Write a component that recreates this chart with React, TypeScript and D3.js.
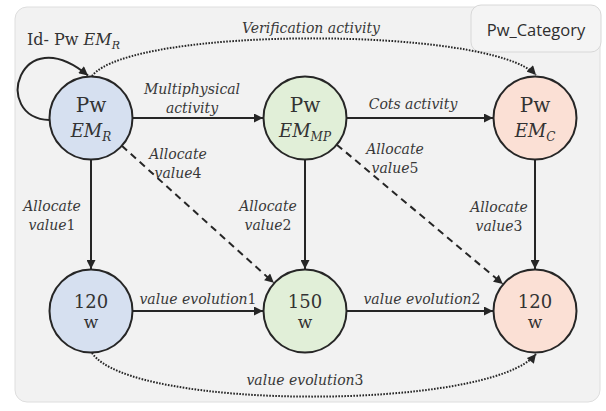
import { useEffect, useRef } from "react";
import * as d3 from "d3";

type NodeDatum = { id: string; col: string; row: string; top: string; math?: string; sub?: string; fill: string };
type EdgeDatum = { from: string; to: string; kind: "solid" | "dashed" | "dotted"; label: string[]; dx: number; dy: number; bend?: number };

const columns = ["R", "MP", "C"];
const rows = ["category", "value"];

const nodes: NodeDatum[] = [
  { id: "pwR", col: "R", row: "category", top: "Pw", math: "EM", sub: "R", fill: "#d6e0f0" },
  { id: "pwMP", col: "MP", row: "category", top: "Pw", math: "EM", sub: "MP", fill: "#e1efd8" },
  { id: "pwC", col: "C", row: "category", top: "Pw", math: "EM", sub: "C", fill: "#fbe0d5" },
  { id: "vR", col: "R", row: "value", top: "120", math: "w", fill: "#d6e0f0" },
  { id: "vMP", col: "MP", row: "value", top: "150", math: "w", fill: "#e1efd8" },
  { id: "vC", col: "C", row: "value", top: "120", math: "w", fill: "#fbe0d5" },
];

const edges: EdgeDatum[] = [
  { from: "pwR", to: "pwMP", kind: "solid", label: ["Multiphysical", "activity"], dx: -6, dy: -24 },
  { from: "pwMP", to: "pwC", kind: "solid", label: ["Cots activity"], dx: -7, dy: -9 },
  { from: "pwR", to: "vR", kind: "solid", label: ["Allocate", "value1"], dx: -39, dy: -4 },
  { from: "pwMP", to: "vMP", kind: "solid", label: ["Allocate", "value2"], dx: -37, dy: -4 },
  { from: "pwC", to: "vC", kind: "solid", label: ["Allocate", "value3"], dx: -36, dy: -3 },
  { from: "pwR", to: "vMP", kind: "dashed", label: ["Allocate", "value4"], dx: -20, dy: -56 },
  { from: "pwMP", to: "vC", kind: "dashed", label: ["Allocate", "value5"], dx: -25, dy: -61 },
  { from: "vR", to: "vMP", kind: "solid", label: ["value evolution1"], dx: 0, dy: -7 },
  { from: "vMP", to: "vC", kind: "solid", label: ["value evolution2"], dx: 2, dy: -7 },
  { from: "pwR", to: "pwC", kind: "dotted", label: ["Verification activity"], dx: -2, dy: -85, bend: -1 },
  { from: "vR", to: "vC", kind: "dotted", label: ["value evolution3"], dx: -8, dy: 74, bend: 1 },
];

const categoryLabel = "Pw_Category";
const loopLabel = { text: "Id- Pw ", math: "EM", sub: "R" };

const W = 606;
const H = 411;
const R = 41.5;

export default function App() {
  const svgRef = useRef<SVGSVGElement>(null);

  useEffect(() => {
    if (!svgRef.current) return;
    const svg = d3.select(svgRef.current);
    svg.selectAll("*").remove();

    const x = d3.scaleOrdinal<string, number>().domain(columns).range([91, 305, 535]);
    const y = d3.scaleOrdinal<string, number>().domain(rows).range([118, 311]);
    const pos = new Map(nodes.map((n) => [n.id, { x: x(n.col), y: y(n.row) }]));

    const ink = "#262626";
    const textInk = "#383838";
    const serif = "'DejaVu Serif', serif";

    const defs = svg.append("defs");
    defs.append("marker")
      .attr("id", "arrow")
      .attr("viewBox", "0 0 10 10")
      .attr("refX", 10)
      .attr("refY", 5)
      .attr("markerUnits", "userSpaceOnUse")
      .attr("markerWidth", 10)
      .attr("markerHeight", 9)
      .attr("orient", "auto")
      .append("path")
      .attr("d", "M0,0 L10,5 L0,10 z")
      .attr("fill", ink);

    // panel
    svg.append("rect")
      .attr("x", 15).attr("y", 7).attr("width", 585).attr("height", 395)
      .attr("rx", 12)
      .attr("fill", "#f2f2f2")
      .attr("stroke", "#dedede");

    const cat = svg.append("g");
    cat.append("rect")
      .attr("x", 471).attr("y", 5).attr("width", 130).attr("height", 47)
      .attr("rx", 10)
      .attr("fill", "#f4f4f4")
      .attr("stroke", "#d8d8d8");
    cat.append("text")
      .attr("x", 536).attr("y", 36)
      .attr("text-anchor", "middle")
      .attr("font-family", "'Open Sans', sans-serif")
      .attr("font-size", 16.5)
      .attr("fill", "#2e2e2e")
      .text(categoryLabel);

    const dash = (k: EdgeDatum["kind"]) => (k === "dashed" ? "7,5" : k === "dotted" ? "1.6,1.4" : null);

    // writes label text, digits upright, letters italic
    const writeLine = (t: d3.Selection<SVGTextElement, unknown, null, undefined>, s: string) => {
      const parts = s.match(/\d+|[^\d]+/g) || [];
      parts.forEach((p) => {
        t.append("tspan").attr("font-style", /\d/.test(p) ? "normal" : "italic").text(p);
      });
    };

    const edgeG = svg.append("g");
    edges.forEach((e) => {
      const a = pos.get(e.from)!;
      const b = pos.get(e.to)!;
      let d: string;
      if (e.bend) {
        const s = e.bend;
        const depth = s > 0 ? 100 : 92;
        const p = d3.path();
        p.moveTo(a.x + 1, a.y + s * (R + 0.5));
        p.bezierCurveTo(a.x + 40, a.y + s * depth, b.x - 45, b.y + s * depth, b.x + 1, b.y + s * (R + 1.5));
        d = p.toString();
      } else {
        const dx = b.x - a.x;
        const dy = b.y - a.y;
        const len = Math.hypot(dx, dy);
        const ux = dx / len;
        const uy = dy / len;
        d = d3.line()([
          [a.x + ux * R, a.y + uy * R],
          [b.x - ux * (R + 0.5), b.y - uy * (R + 0.5)],
        ])!;
      }
      const mx = (a.x + b.x) / 2;
      const my = (a.y + b.y) / 2;
      edgeG.append("path")
        .attr("d", d)
        .attr("fill", "none")
        .attr("stroke", ink)
        .attr("stroke-width", 2)
        .attr("stroke-dasharray", dash(e.kind))
        .attr("marker-end", "url(#arrow)");

      e.label.forEach((line, i) => {
        const t = edgeG.append("text")
          .attr("x", mx + e.dx)
          .attr("y", my + e.dy + i * 19)
          .attr("text-anchor", "middle")
          .attr("font-family", serif)
          .attr("font-size", 14)
          .attr("fill", textInk);
        writeLine(t, line);
      });
    });

    // self loop on Pw EM_R
    const a0 = pos.get("pwR")!;
    const loop = d3.path();
    loop.moveTo(a0.x - R, a0.y + 2);
    loop.bezierCurveTo(a0.x - 100, a0.y, a0.x - 72, a0.y - 100, a0.x - 3, a0.y - R - 1);
    edgeG.append("path")
      .attr("d", loop.toString())
      .attr("fill", "none")
      .attr("stroke", ink)
      .attr("stroke-width", 2)
      .attr("marker-end", "url(#arrow)");

    const lt = svg.append("text")
      .attr("x", 27).attr("y", 45)
      .attr("font-family", serif)
      .attr("font-size", 16)
      .attr("fill", "#333");
    lt.append("tspan").text(loopLabel.text);
    lt.append("tspan").attr("font-style", "italic").text(loopLabel.math);
    lt.append("tspan").attr("font-style", "italic").attr("font-size", 11).attr("dy", 4).text(loopLabel.sub);

    // nodes
    const nodeG = svg.append("g")
      .selectAll("g.node")
      .data(nodes)
      .join("g")
      .attr("class", "node")
      .attr("transform", (n) => `translate(${pos.get(n.id)!.x},${pos.get(n.id)!.y})`);

    nodeG.append("circle")
      .attr("r", R)
      .attr("fill", (n) => n.fill)
      .attr("stroke", ink)
      .attr("stroke-width", 2);

    nodeG.each(function (n) {
      const g = d3.select(this);
      if (n.sub) {
        g.append("text")
          .attr("y", -6)
          .attr("text-anchor", "middle")
          .attr("font-family", serif)
          .attr("font-size", 20)
          .attr("fill", "#333")
          .text(n.top);
        const t = g.append("text")
          .attr("y", 19)
          .attr("text-anchor", "middle")
          .attr("font-family", serif)
          .attr("font-style", "italic")
          .attr("font-size", 18)
          .attr("fill", "#333");
        t.append("tspan").text(n.math!);
        t.append("tspan").attr("font-size", 12).attr("dy", 4).text(n.sub);
      } else {
        g.append("text")
          .attr("y", -3)
          .attr("text-anchor", "middle")
          .attr("font-family", serif)
          .attr("font-size", 18)
          .attr("fill", "#333")
          .text(n.top);
        g.append("text")
          .attr("y", 17)
          .attr("text-anchor", "middle")
          .attr("font-family", serif)
          .attr("font-size", 17)
          .attr("fill", "#333")
          .text(n.math!);
      }
    });
  }, []);

  return (
    <svg
      ref={svgRef}
      width={W}
      height={H}
      style={{ position: "absolute", left: 0, top: 0, background: "#fff" }}
    />
  );
}
